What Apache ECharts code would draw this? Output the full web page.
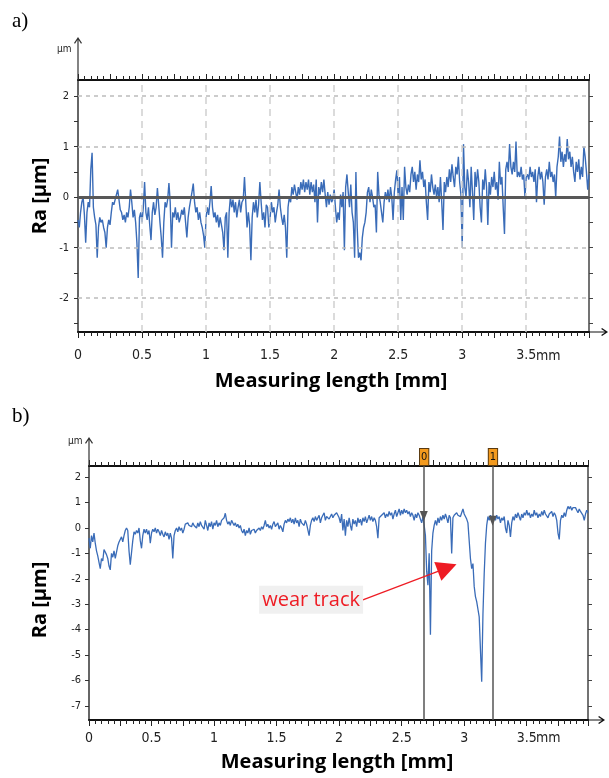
<!DOCTYPE html>
<html><head><meta charset="utf-8">
<script src="https://cdn.jsdelivr.net/npm/echarts@6/dist/echarts.min.js"></script>
<style>html,body{margin:0;padding:0;background:#fff}#c{width:609px;height:778px}</style>
</head><body><div id="c"></div>
<script>
const STEP = 0.01;
const profileA = [
-0.45,-0.6,-0.3,-0.1,0,-0.35,-0.9,-0.3,-0.1,-0.2,
0.55,0.88,-0.2,-0.4,-0.55,-1.2,-0.6,-0.4,-0.5,-0.45,
-0.6,-0.7,-1,-0.6,-0.45,-0.55,-0.3,-0.1,-0.15,-0.05,
0.05,0.15,-0.05,-0.25,-0.3,-0.45,-0.35,-0.5,-0.3,-0.4,
-0.2,0.15,-0.1,-0.4,-0.25,-0.5,-0.9,-1.6,-0.4,-0.3,
-0.5,-0.2,0.3,-0.3,-0.45,-0.2,-0.55,-0.85,-0.3,-0.1,
-0.35,-0.2,0.18,-0.15,-0.5,-0.8,-1.2,-0.5,-0.1,-0.2,
-0.05,0.28,-0.1,-1,-0.3,-0.4,-0.2,-0.45,-0.3,-0.5,
-0.4,-0.25,-0.35,-0.2,-0.5,-0.8,-0.4,-0.2,-0.05,0.1,
0.27,-0.1,-0.3,-0.2,-0.45,-0.3,-0.5,-0.6,-0.75,-1,
-0.4,-0.2,-0.35,-0.1,0.22,-0.2,-0.4,-0.3,-0.5,-0.35,
-0.6,-0.4,-0.55,-0.7,-1.05,-0.4,-0.3,-1.2,-0.3,0,
-0.2,-0.05,-0.3,-0.1,-0.4,-0.2,-0.05,-0.3,-0.1,-0.05,
0.4,-0.1,-0.6,-0.3,-0.55,-1.25,-0.4,-0.1,-0.3,-0.05,
-0.4,-0.15,0.3,-0.1,-0.45,-0.3,-0.6,-0.15,-0.2,-0.6,
-0.4,-0.1,-0.3,-0.2,-0.5,-0.3,-0.15,0.15,-0.2,-0.4,
-0.55,-0.35,-0.6,-1.2,-0.2,0,-0.1,0.2,0.05,0.25,
0.1,-0.05,0.2,0.05,0.3,0.15,0.35,0.1,0.3,0.15,
0.35,0.05,0.3,0.1,0.25,-0.1,0.35,-0.5,0.2,0.05,
0.3,0.1,0.35,0.05,-0.2,0.1,-0.15,0.05,-0.1,-0.05,
0.15,-0.2,-0.5,-0.3,-0.45,0.05,-0.2,0.1,-1.05,0.2,
0.45,0.1,-0.2,0.25,-0.3,-0.5,-1.2,0.5,-0.6,-1.2,
-1.1,-1.25,-0.8,-0.6,-0.5,-0.3,0.1,0.2,-0.1,0.15,
0,-0.2,-0.15,-0.7,0.5,0.05,-0.1,-0.3,-0.5,-0.1,
0.1,-0.05,0.15,-0.1,0.2,0,-0.45,0.1,0.35,0.53,
0,0.4,-0.45,0.2,-0.45,0.6,0.2,0.05,0.25,0.1,
0.45,0.6,0.3,0.5,0.15,0.45,0.3,0.73,0.35,0.5,
0.2,0.35,-0.1,-0.45,0.3,0.1,0.45,0.2,0.05,0.25,
0,0.2,-0.1,0.4,-0.1,-0.65,0.3,0.1,0.4,0.2,
0.55,0.3,0.65,0.4,0.2,0.6,0.45,0.8,0.3,0.05,
-1,1.05,0.2,0,0.55,0.3,-0.2,0.6,0.1,-0.45,
0.5,0.2,0.55,0.3,-0.2,-0.5,0.35,0.15,0.55,0.2,
-0.55,0.3,0.05,0.4,0.2,0.5,0.15,0.3,-0.05,0.7,
0.25,0.4,-0.2,-0.73,0.55,0.7,0.5,1.05,0.6,0.45,
0.7,0.5,1.1,0.4,0.5,0.4,0.6,0.35,0.45,0,
0.4,0.45,0.35,0.6,0.4,0.5,0.3,0.55,-0.1,0.4,
0.6,0.35,0.5,0.3,-0.15,0.4,0.55,0.35,0.7,0.4,
0.5,0.3,0.45,0,0.6,0.8,1.2,0.7,0.9,0.6,
0.85,0.7,1.15,0.75,0.9,0.6,0.8,0.5,0.3,0.7,
0.5,0.75,0.35,0.6,0.4,1,0.8,0.5,0.15,0.45
];
const profileB = [
-0.4,-0.8,-0.3,-0.55,-0.2,-0.6,-0.9,-1.1,-1.35,-1.6,
-1.2,-1.3,-0.85,-0.8,-1.05,-1.2,-1.5,-1.65,-1,-1.15,
-0.9,-1.2,-0.95,-0.7,-0.55,-0.6,-0.35,-0.55,-0.3,-0.1,
0,-0.1,-0.9,-1.45,-1.45,-0.5,-0.15,-0.25,-0.1,-0.2,
0,-0.5,-0.8,-0.3,-0.05,-0.2,-0.05,-0.25,-0.1,-0.6,
-0.2,-0.05,-0.15,0,-0.2,-0.05,-0.15,-0.3,-0.1,-0.25,
-0.35,-0.15,-0.3,-0.2,-0.45,-0.2,-0.4,-1.2,-0.3,-0.1,
0,-0.15,0.05,-0.1,0,-0.2,-0.05,0.15,0.1,0.2,
0.1,0.15,0.05,0.2,0.1,0.15,0,0.2,0.05,0.25,
0.1,0.15,-0.05,0.3,0.1,-0.1,0.2,0.05,0.25,-0.05,
0.2,0.1,0.3,0.05,0.2,0.1,0.3,0.35,0.4,0.58,
0.3,0.15,0.25,0.1,0.3,0.35,0.1,0.2,0.05,0.15,
0,0.1,-0.1,-0.2,-0.05,-0.3,-0.1,-0.2,0,-0.25,
-0.1,-0.15,-0.05,-0.2,-0.1,-0.05,0,-0.1,0.05,-0.05,
0.1,0.3,0.05,0.15,0,0.1,-0.05,0.15,0.25,0.05,
0.1,0.2,-0.05,0.1,0,-0.15,0.15,0.3,0.2,0.35,
0.25,0.4,0.2,0.35,0.15,0.4,0.2,0.3,0.05,0.35,
0.2,0.25,0.1,0.3,0.15,0.2,-0.3,0.1,0.3,0.4,
0.25,0.45,0.3,0.35,0.5,0.2,0.4,0.45,0.6,0.3,
0.45,0.5,0.35,0.45,0.55,0.4,0.5,0.45,0.6,0.5,
0.4,0.2,0.55,-0.1,0.35,-0.3,0.3,0.05,0.4,0.1,
-0.1,0.35,0.15,0.3,0.05,0.4,0.2,0.35,0.1,0.4,
0.25,0.45,0.2,0.35,0.5,0.3,0.45,0.25,0.4,0.3,
0.05,-0.4,0.4,0.35,0.5,0.45,0.6,0.4,0.55,0.45,
0.65,0.5,0.6,0.35,0.55,0.7,0.45,0.6,0.75,0.5,
0.7,0.55,0.75,0.6,0.7,0.55,0.65,0.45,0.6,0.5,
0.3,0.55,0.4,0.6,0.5,0.35,0.2,0.45,0.1,-0.3,
-1.7,-2.25,-1,-4.2,-0.9,-0.2,0.1,0.3,0.1,0.4,
0.2,0.45,0.3,0.5,0.35,0.55,0.4,0.2,0.5,0.4,
-1,0.4,0.5,0.45,0.6,0.5,0.55,0.45,0.6,0.75,
0.55,0.5,0.35,0.2,-0.5,-1.2,-1.6,-1.4,-2.3,-2.7,
-2.9,-3.2,-3.5,-4.8,-6.05,-3.4,-1.8,-0.6,0.1,0.45,
0.3,0.5,0.4,0.25,0.45,0.3,0.5,0.35,0.45,0.2,
0.4,0.3,0.45,0,-0.2,0.3,0.1,-0.35,0.2,0.45,
0.3,0.55,0.4,0.6,0.45,0.3,0.55,0.4,0.6,0.5,
0.7,0.5,0.6,0.4,0.55,0.45,0.7,0.5,0.6,0.4,
0.55,0.45,0.65,0.5,0.7,0.55,0.6,0.4,0.55,0.5,
0.65,0.45,0.6,0.5,0.3,-0.2,-0.45,0.3,0.5,0.4,
0.6,0.45,0.7,0.85,0.75,0.85,0.7,0.8,0.75,0.8,
0.7,0.6,0.75,0.65,0.7,0.5,0.3,0.55,0.7,0.6
];
const xMax = 3.99;
const yRangeA = [-2.67, 2.32];
const yRangeB = [-7.56, 2.44];
const yLabelsA = [-2, -1, 0, 1, 2];
const yTicksA = [-2.5, -2, -1.5, -1, -0.5, 0, 0.5, 1, 1.5, 2];
const yLabelsB = [-7, -6, -5, -4, -3, -2, -1, 0, 1, 2];
const gridXA = [0.5, 1, 1.5, 2, 2.5, 3, 3.5];
const gridYA = [-2, -1, 1, 2];
const cursorsB = [{name: '0', x: 2.677, y: 0.47}, {name: '1', x: 3.227, y: 0.28}];
const wearText = {text: 'wear track', x: 1.776, y: -2.83};
const wearArrow = [[2.19, -2.83], [2.864, -1.57]];

const BLUE = '#3a6cb8';
const NARROW = "'Liberation Sans Narrow','Arial Narrow','DejaVu Sans Condensed',sans-serif";
const toPairs = arr => arr.map((v, i) => [+(i * STEP).toFixed(2), v]);
function arrowPath(L) { return 'path://M4 0L8 6L7 6.8L4.6 3L4.6 ' + L + 'L3.4 ' + L + 'L3.4 3L1 6.8L0 6Z'; }

function bottomX(gi, margin, len) {
  return {
    type: 'value', gridIndex: gi, position: 'bottom', min: 0, max: xMax, interval: 0.25,
    axisLine: {show: true, onZero: false, lineStyle: {color: '#111', width: 2},
      symbol: ['none', arrowPath(len)], symbolSize: [8, len], symbolOffset: [0, len / 2]},
    axisTick: {show: true, inside: false, length: 6, lineStyle: {color: '#222', width: 1}},
    minorTick: {show: true, splitNumber: 5, length: 4, lineStyle: {color: '#222', width: 1}},
    axisLabel: {show: true, margin: margin, fontFamily: NARROW, fontSize: 14, color: '#222',
      formatter: v => (Math.abs(v * 2 - Math.round(v * 2)) < 1e-6 && v <= 3.5) ? String(v) : ''},
    splitLine: {show: false}, minorSplitLine: {show: false}
  };
}
function topX(gi) {
  return {
    type: 'value', gridIndex: gi, position: 'top', min: 0, max: xMax, interval: 0.25,
    axisLine: {show: true, onZero: false, lineStyle: {color: '#111', width: 2}},
    axisTick: {show: true, inside: false, length: 6, lineStyle: {color: '#222', width: 1}},
    minorTick: {show: true, splitNumber: 5, length: 4, lineStyle: {color: '#222', width: 1}},
    axisLabel: {show: false}, splitLine: {show: false}
  };
}
function leftY(gi, range, labels, ticks, margin, len) {
  return {
    type: 'value', gridIndex: gi, position: 'left', min: range[0], max: range[1],
    axisLine: {show: true, onZero: false, lineStyle: {color: '#333', width: 1.5},
      symbol: ['none', arrowPath(len)], symbolSize: [8, len], symbolOffset: [0, len / 2]},
    axisTick: {show: true, inside: false, length: 4, customValues: ticks, lineStyle: {color: '#333'}},
    axisLabel: {show: true, margin: margin, customValues: labels, fontFamily: NARROW, fontSize: 11, color: '#222'},
    splitLine: {show: false}
  };
}
function rightY(gi, range, ticks) {
  return {
    type: 'value', gridIndex: gi, position: 'right', min: range[0], max: range[1],
    axisLine: {show: true, onZero: false, lineStyle: {color: '#444', width: 1.5}},
    axisTick: {show: true, inside: false, length: 4, customValues: ticks, lineStyle: {color: '#444'}},
    axisLabel: {show: false}, splitLine: {show: false}
  };
}

const chart = echarts.init(document.getElementById('c'), null, {renderer: 'canvas'});
const titleFont = "bold 20px 'Open Sans'";
chart.setOption({
  animation: false,
  grid: [
    {left: 78, top: 80, right: 20, bottom: 446},
    {left: 89, top: 466, right: 21, bottom: 58}
  ],
  xAxis: [bottomX(0, 16, 19), topX(0), bottomX(1, 11, 17), topX(1)],
  yAxis: [
    leftY(0, yRangeA, yLabelsA, yTicksA, 9, 43), rightY(0, yRangeA, yTicksA),
    leftY(1, yRangeB, yLabelsB, yLabelsB, 8, 29), rightY(1, yRangeB, yLabelsB)
  ],
  series: [
    {
      type: 'line', xAxisIndex: 0, yAxisIndex: 0, data: [], silent: true, z: 1,
      markLine: {silent: true, symbol: ['none', 'none'], label: {show: false}, animation: false,
        data: [
          ...gridXA.map(v => ({xAxis: v, lineStyle: {color: '#cfcfcf', type: [7, 5], width: 1.5}})),
          ...gridYA.map(v => ({yAxis: v, lineStyle: {color: '#bcbcbc', type: [4, 4], width: 1.5}})),
          {yAxis: 0, lineStyle: {color: '#585858', type: 'solid', width: 3}}
        ]}
    },
    {
      type: 'line', xAxisIndex: 0, yAxisIndex: 0, data: toPairs(profileA), showSymbol: false, symbol: 'none',
      lineStyle: {color: BLUE, width: 1.4}, z: 3, silent: true
    },
    {
      type: 'line', xAxisIndex: 2, yAxisIndex: 2, data: [], silent: true, z: 2,
      markLine: {silent: true, symbol: ['none', 'none'], animation: false,
        data: cursorsB.map(c => ({xAxis: c.x, lineStyle: {color: '#555', width: 1.5, type: 'solid'},
          label: {show: true, position: 'end', formatter: c.name, distance: 1,
            backgroundColor: '#f39a1e', borderColor: '#5a3a10', borderWidth: 1, padding: [3, 1, 2, 1],
            color: '#111', fontSize: 11, fontFamily: NARROW}}))},
      markPoint: {silent: true, symbol: 'triangle', symbolRotate: 180, symbolSize: [8, 10],
        itemStyle: {color: '#555'}, label: {show: false},
        data: cursorsB.map(c => ({coord: [c.x, c.y]}))}
    },
    {
      type: 'line', xAxisIndex: 2, yAxisIndex: 2, data: toPairs(profileB), showSymbol: false, symbol: 'none',
      lineStyle: {color: BLUE, width: 1.3}, z: 3, silent: true,
      markPoint: {silent: true, symbol: 'rect', symbolSize: [104, 28], itemStyle: {color: '#f0f0f0'},
        label: {show: true, position: 'inside', formatter: wearText.text, color: '#ee1c24', fontSize: 20, fontFamily: "'Open Sans'"},
        data: [{coord: [wearText.x, wearText.y]}]},
      markLine: {silent: true, symbol: ['none', 'triangle'], symbolSize: 20, label: {show: false},
        lineStyle: {color: '#ee1c24', width: 1.2, type: 'solid'},
        data: [[{coord: wearArrow[0]}, {coord: wearArrow[1]}]]}
    }
  ],
  graphic: [
    {type: 'text', x: 12, y: 11, style: {text: 'a)', font: "21px 'Liberation Serif'", fill: '#000'}},
    {type: 'text', x: 12, y: 406, style: {text: 'b)', font: "21px 'Liberation Serif'", fill: '#000'}},
    {type: 'text', x: 57, y: 44, style: {text: 'µm', font: "10px " + NARROW, fill: '#222'}},
    {type: 'text', x: 68, y: 436, style: {text: 'µm', font: "10px " + NARROW, fill: '#222'}},
    {type: 'text', x: 40, y: 196, rotation: Math.PI / 2, style: {text: 'Ra [µm]', font: titleFont, fill: '#000', align: 'center', verticalAlign: 'middle'}},
    {type: 'text', x: 40, y: 600, rotation: Math.PI / 2, style: {text: 'Ra [µm]', font: titleFont, fill: '#000', align: 'center', verticalAlign: 'middle'}},
    {type: 'text', x: 331, y: 381, style: {text: 'Measuring length [mm]', font: titleFont, fill: '#000', align: 'center', verticalAlign: 'middle'}},
    {type: 'text', x: 337, y: 762, style: {text: 'Measuring length [mm]', font: titleFont, fill: '#000', align: 'center', verticalAlign: 'middle'}},
    {type: 'text', x: 536, y: 356, style: {text: 'mm', font: "14px " + NARROW, fill: '#222', verticalAlign: 'middle'}},
    {type: 'text', x: 536, y: 738, style: {text: 'mm', font: "14px " + NARROW, fill: '#222', verticalAlign: 'middle'}}
  ]
});
</script></body></html>
